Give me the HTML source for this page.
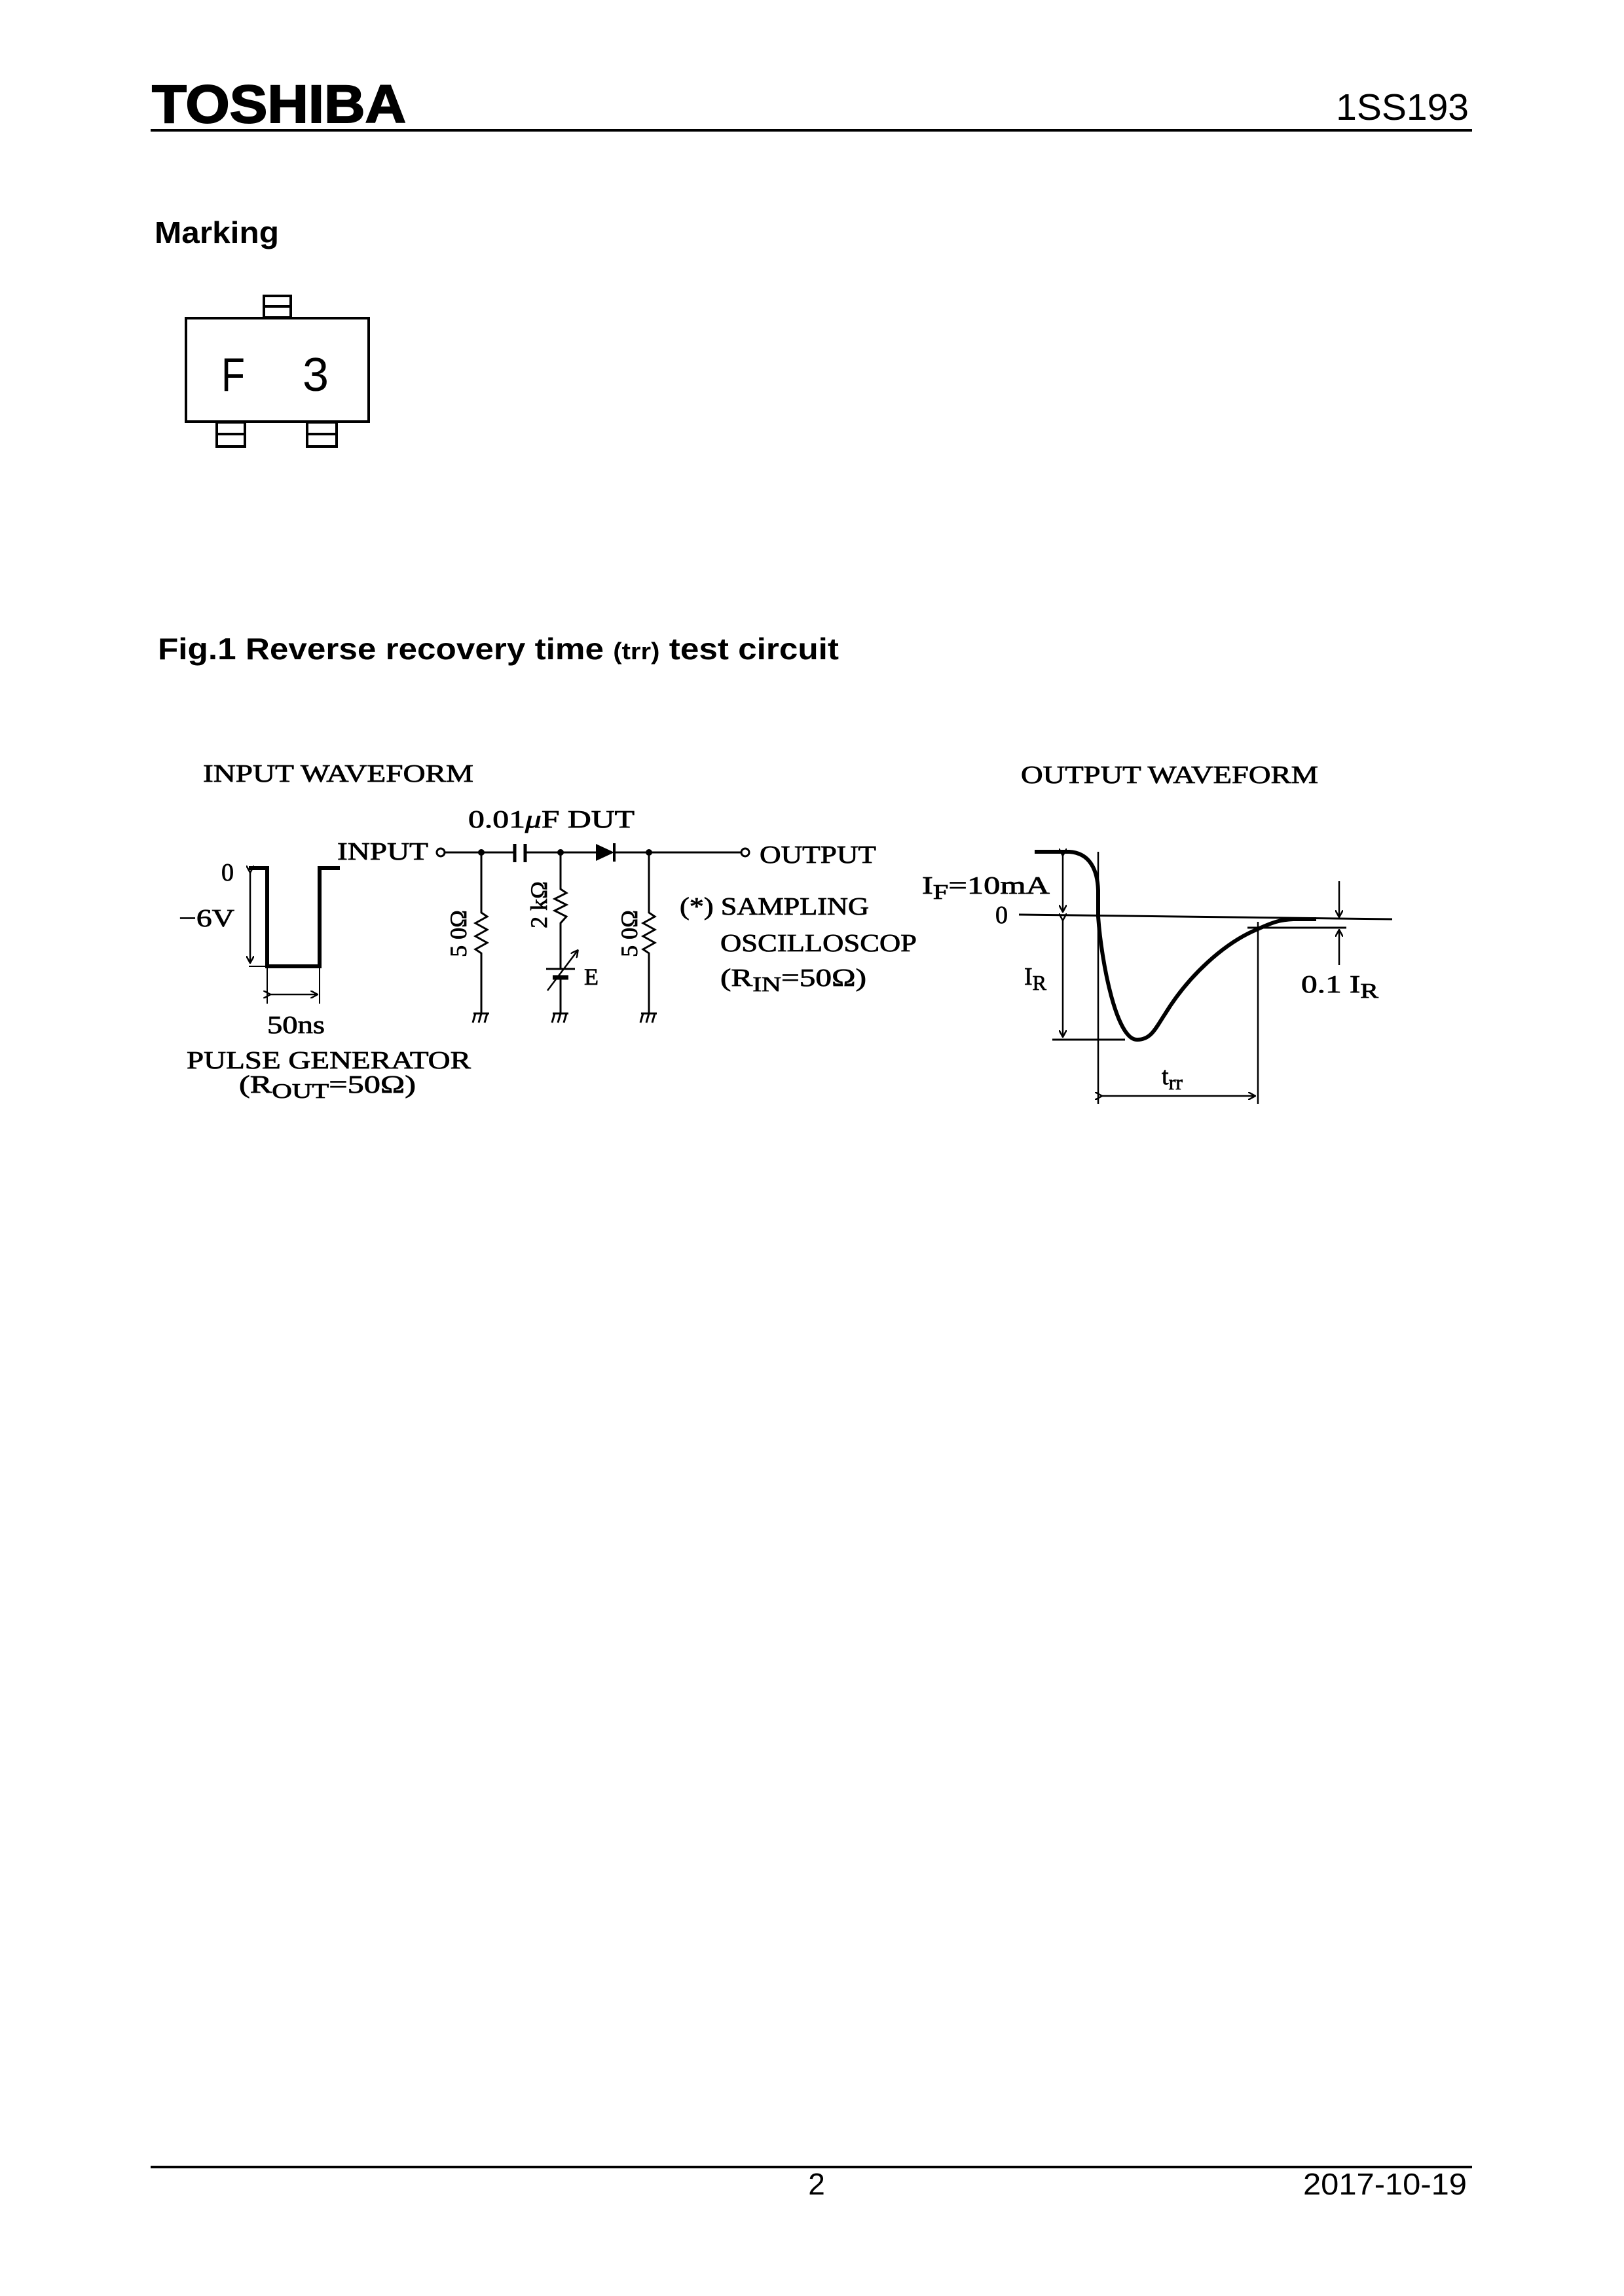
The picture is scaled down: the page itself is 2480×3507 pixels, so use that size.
<!DOCTYPE html>
<html><head><meta charset="utf-8"><style>
html,body{margin:0;padding:0;background:#fff}
svg{display:block}
.s{font-family:"Liberation Serif",serif;fill:#000;stroke:#000;stroke-width:0.8}
.a{font-family:"Liberation Sans",sans-serif;fill:#000}
</style></head><body>
<svg width="2480" height="3507" viewBox="0 0 2480 3507" xmlns="http://www.w3.org/2000/svg">
<defs>
<marker id="ar" markerWidth="12" markerHeight="12" refX="10" refY="6" orient="auto" markerUnits="userSpaceOnUse" viewBox="0 0 12 12"><path d="M0,0 L11,6 L0,12" fill="none" stroke="#000" stroke-width="2.5"/></marker>
</defs>
<!-- header -->
<text x="232" y="187" class="a" font-size="82" font-weight="bold" textLength="388" lengthAdjust="spacingAndGlyphs" stroke="#000" stroke-width="2">TOSHIBA</text>
<text x="2243" y="183" class="a" font-size="57" text-anchor="end">1SS193</text>
<rect x="230" y="197" width="2018" height="4" fill="#000"/>
<text x="236" y="371" class="a" font-size="46" font-weight="bold" textLength="190" lengthAdjust="spacingAndGlyphs">Marking</text>
<!-- package -->
<g fill="none" stroke="#000" stroke-width="4">
<rect x="284" y="486" width="279" height="158"/>
<rect x="403" y="452" width="41" height="33"/><line x1="403" y1="468" x2="444" y2="468"/>
<rect x="331" y="645" width="43" height="37"/><line x1="331" y1="663" x2="374" y2="663"/>
<rect x="469" y="645" width="45" height="37"/><line x1="469" y1="663" x2="514" y2="663"/>
</g>
<text x="338" y="597" class="a" font-size="72" textLength="36" lengthAdjust="spacingAndGlyphs">F</text>
<text x="462" y="597" class="a" font-size="72" textLength="40" lengthAdjust="spacingAndGlyphs">3</text>
<!-- fig title -->
<text x="241" y="1007" class="a" font-size="46" font-weight="bold" textLength="1040" lengthAdjust="spacingAndGlyphs">Fig.1  Reverse recovery time <tspan font-size="36">(trr)</tspan> test circuit</text>
<!-- input waveform -->
<text x="310" y="1194" class="s" font-size="38" textLength="413" lengthAdjust="spacingAndGlyphs">INPUT WAVEFORM</text>
<g stroke="#000" fill="none">
<polyline points="380,1326 408,1326 408,1476 488,1476 488,1326 519,1326" stroke-width="6"/>
<line x1="380" y1="1476" x2="408" y2="1476" stroke-width="2"/>
<line x1="382" y1="1332" x2="382" y2="1470" stroke-width="2.5" marker-end="url(#ar)" marker-start="url(#ar)"/>
<line x1="408" y1="1476" x2="408" y2="1533" stroke-width="2"/>
<line x1="488" y1="1476" x2="488" y2="1533" stroke-width="2"/>
<line x1="412" y1="1519" x2="484" y2="1519" stroke-width="2.5" marker-end="url(#ar)" marker-start="url(#ar)"/>
</g>
<text x="338" y="1345" class="s" font-size="38">0</text>
<text x="273" y="1415" class="s" font-size="38" textLength="85" lengthAdjust="spacingAndGlyphs">−6V</text>
<text x="408" y="1578" class="s" font-size="38" textLength="88" lengthAdjust="spacingAndGlyphs">50ns</text>
<text x="285" y="1632" class="s" font-size="38" textLength="434" lengthAdjust="spacingAndGlyphs">PULSE GENERATOR</text>
<text x="365" y="1669" class="s" font-size="38" textLength="270" lengthAdjust="spacingAndGlyphs">(R<tspan font-size="32" dy="8">OUT</tspan><tspan dy="-8">=50Ω)</tspan></text>
<!-- circuit -->
<text x="715" y="1264" class="s" font-size="38" textLength="254" lengthAdjust="spacingAndGlyphs">0.01<tspan font-style="italic">μ</tspan>F  DUT</text>
<text x="515" y="1313" class="s" font-size="38" textLength="139" lengthAdjust="spacingAndGlyphs">INPUT</text>
<text x="1160" y="1318" class="s" font-size="38" textLength="178" lengthAdjust="spacingAndGlyphs">OUTPUT</text>
<g stroke="#000" fill="none" stroke-width="3">
<circle cx="673" cy="1302" r="6"/>
<line x1="679" y1="1302" x2="786" y2="1302"/>
<line x1="802" y1="1302" x2="910" y2="1302"/>
<line x1="938" y1="1302" x2="1132" y2="1302"/>
<circle cx="1138" cy="1302" r="6"/>
<line x1="786" y1="1289" x2="786" y2="1317" stroke-width="5"/>
<line x1="802" y1="1289" x2="802" y2="1317" stroke-width="5"/>
<line x1="938" y1="1288" x2="938" y2="1316" stroke-width="4"/>
<polyline points="735,1302 735,1394 744,1400 726,1410 744,1420 726,1430 744,1440 726,1450 735,1456 735,1548"/>
<polyline points="856,1302 856,1358 865,1364 847,1373 865,1382 847,1391 865,1400 856,1410 856,1480"/>
<line x1="834" y1="1480" x2="878" y2="1480" stroke-width="3"/>
<line x1="844" y1="1493" x2="868" y2="1493" stroke-width="7"/>
<line x1="856" y1="1493" x2="856" y2="1548"/>
<line x1="836" y1="1513" x2="882" y2="1452" stroke-width="2.5" marker-end="url(#ar)"/>
<polyline points="991,1302 991,1394 1000,1400 982,1410 1000,1420 982,1430 1000,1440 982,1450 991,1456 991,1548"/>
<g stroke-width="3">
<line x1="723" y1="1548" x2="747" y2="1548"/><line x1="726" y1="1548" x2="722" y2="1562"/><line x1="735" y1="1548" x2="731" y2="1562"/><line x1="744" y1="1548" x2="740" y2="1562"/>
<line x1="844" y1="1548" x2="868" y2="1548"/><line x1="847" y1="1548" x2="843" y2="1562"/><line x1="856" y1="1548" x2="852" y2="1562"/><line x1="865" y1="1548" x2="861" y2="1562"/>
<line x1="979" y1="1548" x2="1003" y2="1548"/><line x1="982" y1="1548" x2="978" y2="1562"/><line x1="991" y1="1548" x2="987" y2="1562"/><line x1="1000" y1="1548" x2="996" y2="1562"/>
</g>
</g>
<path d="M910,1289 L938,1302 L910,1315 Z" fill="#000"/>
<circle cx="735" cy="1302" r="5" fill="#000"/>
<circle cx="856" cy="1302" r="5" fill="#000"/>
<circle cx="991" cy="1302" r="5" fill="#000"/>
<text class="s" font-size="36" transform="translate(712,1426) rotate(-90)" text-anchor="middle">5 0Ω</text>
<text class="s" font-size="36" transform="translate(835,1382) rotate(-90)" text-anchor="middle">2 kΩ</text>
<text class="s" font-size="36" transform="translate(973,1426) rotate(-90)" text-anchor="middle">5 0Ω</text>
<text x="892" y="1504" class="s" font-size="36">E</text>
<text x="1038" y="1397" class="s" font-size="38" textLength="289" lengthAdjust="spacingAndGlyphs">(*) SAMPLING</text>
<text x="1100" y="1453" class="s" font-size="38" textLength="300" lengthAdjust="spacingAndGlyphs">OSCILLOSCOP</text>
<text x="1100" y="1506" class="s" font-size="38" textLength="223" lengthAdjust="spacingAndGlyphs">(R<tspan font-size="32" dy="8">IN</tspan><tspan dy="-8">=50Ω)</tspan></text>
<!-- output waveform -->
<text x="1559" y="1196" class="s" font-size="38" textLength="454" lengthAdjust="spacingAndGlyphs">OUTPUT WAVEFORM</text>
<g stroke="#000" fill="none">
<path d="M1580,1301 L1633,1301 C1665,1303 1676,1330 1677,1360 L1677,1400 C1682,1470 1705,1590 1737,1588 C1758,1588 1765,1570 1779,1549 C1815,1490 1870,1440 1921,1419 C1945,1408 1955,1405 1975,1404 L2010,1404" stroke-width="6"/>
<line x1="1556" y1="1397" x2="2126" y2="1404" stroke-width="3"/>
<line x1="1677" y1="1301" x2="1677" y2="1686" stroke-width="2.5"/>
<line x1="1921" y1="1408" x2="1921" y2="1686" stroke-width="2.5"/>
<line x1="1607" y1="1588" x2="1718" y2="1588" stroke-width="3"/>
<line x1="1905" y1="1417" x2="2056" y2="1417" stroke-width="3"/>
<line x1="1623" y1="1306" x2="1623" y2="1392" stroke-width="2.5" marker-end="url(#ar)" marker-start="url(#ar)"/>
<line x1="1623" y1="1405" x2="1623" y2="1583" stroke-width="2.5" marker-end="url(#ar)" marker-start="url(#ar)"/>
<line x1="2045" y1="1346" x2="2045" y2="1400" stroke-width="2.5" marker-end="url(#ar)"/>
<line x1="2045" y1="1474" x2="2045" y2="1421" stroke-width="2.5" marker-end="url(#ar)"/>
<line x1="1682" y1="1674" x2="1916" y2="1674" stroke-width="2.5" marker-end="url(#ar)" marker-start="url(#ar)"/>
</g>
<text x="1408" y="1365" class="s" font-size="38" textLength="195" lengthAdjust="spacingAndGlyphs">I<tspan font-size="32" dy="8">F</tspan><tspan dy="-8">=10mA</tspan></text>
<text x="1520" y="1410" class="s" font-size="38">0</text>
<text x="1564" y="1504" class="s" font-size="38">I<tspan font-size="32" dy="8">R</tspan></text>
<text x="1987" y="1516" class="s" font-size="38" textLength="118" lengthAdjust="spacingAndGlyphs">0.1 I<tspan font-size="32" dy="8">R</tspan></text>
<text x="1774" y="1656" class="s" font-size="38">t<tspan font-size="32" dy="8">rr</tspan></text>
<!-- footer -->
<rect x="230" y="3308" width="2018" height="4" fill="#000"/>
<text x="1247" y="3352" class="a" font-size="46" text-anchor="middle">2</text>
<text x="1990" y="3352" class="a" font-size="46" textLength="250" lengthAdjust="spacingAndGlyphs">2017-10-19</text>
</svg>
</body></html>
